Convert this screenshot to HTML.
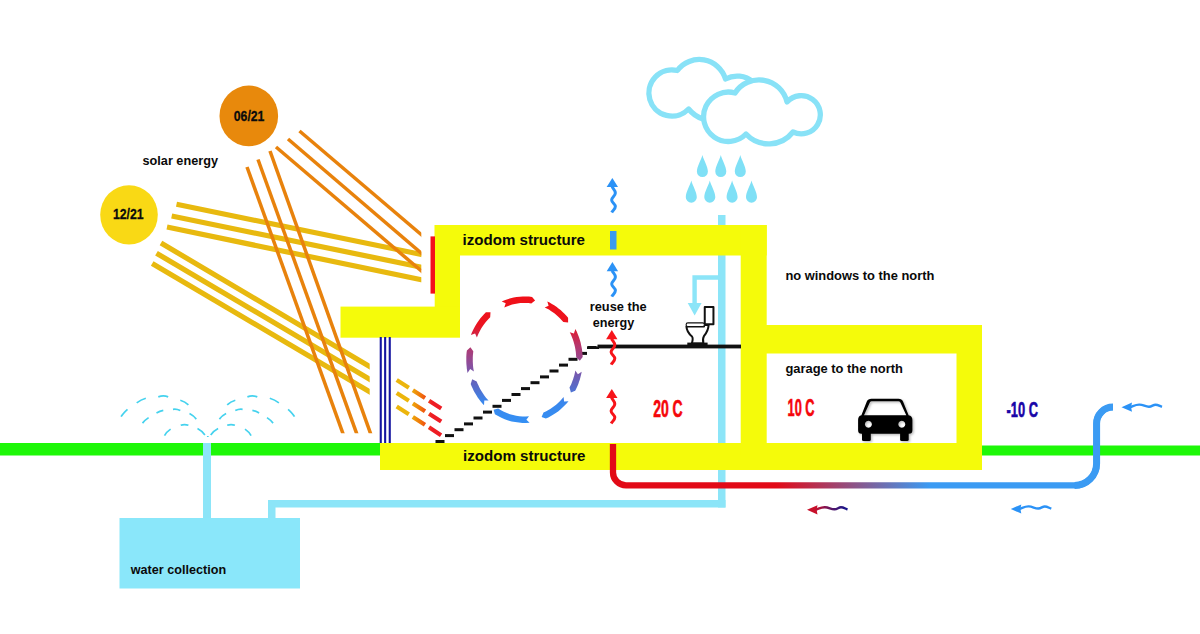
<!DOCTYPE html>
<html><head><meta charset="utf-8"><title>izodom energy diagram</title>
<style>
html,body{margin:0;padding:0;background:#fff}
svg{display:block}
text{font-family:"Liberation Sans",Arial,sans-serif;font-weight:bold;fill:#0a0a0a}
</style></head><body>
<svg width="1200" height="634" viewBox="0 0 1200 634">
<defs>
<linearGradient id="gc" gradientUnits="userSpaceOnUse" x1="0" y1="297" x2="0" y2="423">
<stop offset="0" stop-color="#f01018"/><stop offset="0.22" stop-color="#ec1420"/><stop offset="0.38" stop-color="#b8356a"/><stop offset="0.54" stop-color="#8a4f9e"/><stop offset="0.70" stop-color="#5c68c4"/><stop offset="0.83" stop-color="#3a86ec"/><stop offset="1" stop-color="#3490f4"/>
</linearGradient>
<linearGradient id="gp" gradientUnits="userSpaceOnUse" x1="776" y1="0" x2="930" y2="0">
<stop offset="0" stop-color="#e20a17"/><stop offset="1" stop-color="#3b9bf3"/>
</linearGradient>
<linearGradient id="gd" gradientUnits="userSpaceOnUse" x1="397" y1="0" x2="441" y2="0">
<stop offset="0" stop-color="#ecb50c"/><stop offset="0.3" stop-color="#ecb50c"/><stop offset="0.55" stop-color="#f0700a"/><stop offset="0.8" stop-color="#ee1c24"/><stop offset="1" stop-color="#ee1c24"/>
</linearGradient>
<linearGradient id="ga" gradientUnits="userSpaceOnUse" x1="0" y1="0" x2="40" y2="0">
<stop offset="0" stop-color="#c8102a"/><stop offset="0.300" stop-color="#b01038"/><stop offset="0.650" stop-color="#50186c"/><stop offset="1" stop-color="#14148c"/>
</linearGradient>
<clipPath id="cA"><rect x="0" y="0" width="600" height="433.300"/></clipPath><clipPath id="cC"><rect x="0" y="0" width="421.300" height="600"/></clipPath><clipPath id="cD"><rect x="0" y="0" width="369.700" height="600"/></clipPath>
<filter id="sh" x="-20%" y="-20%" width="150%" height="150%"><feDropShadow dx="1.300" dy="1.300" stdDeviation="0.900" flood-color="#000" flood-opacity="0.280"/></filter>
<g id="up"><path d="M0,0 L5.700,9.200 H-5.700Z" stroke="none"/><path d="M-0.300,8.800 C0.800,11 3,12.500 3,15 C3,18 -0.700,19.500 -0.700,22 C-0.700,24.500 3,26 3,28.500 C3,31 0.500,32.500 -0.600,34.600" fill="none" stroke-width="3"/></g>
<g id="lf"><path d="M0,0 L10.500,-4.600 L9.600,0 L10.500,4.600Z" stroke="none"/><path d="M8.500,0 C11.500,-0.800 14,-2.800 18,-2.600 C22,-2.400 24,-0.400 27.500,-0.500 C30.500,-0.600 31.500,-2.500 34,-2.500 C36.500,-2.500 38,-1.200 40.500,-0.300" fill="none" stroke-width="2.400"/></g>
</defs>
<rect width="1200" height="634" fill="#fff"/>

<!-- ground -->
<rect x="0" y="443" width="382" height="12.5" fill="#1ef708"/>
<rect x="980" y="445.5" width="220" height="10" fill="#1ef708"/>

<!-- sun rays -->
<g stroke="#e8b90f" stroke-width="5.2"><g clip-path="url(#cC)"><line x1="176.5" y1="204.3" x2="427.2" y2="255.6"/><line x1="171.7" y1="216" x2="427.2" y2="268.4"/><line x1="167" y1="227" x2="427.2" y2="281.0"/></g><g clip-path="url(#cD)"><line x1="161" y1="243" x2="374.9" y2="369.7"/><line x1="156.5" y1="253.2" x2="374.9" y2="382.3"/><line x1="152.2" y1="263.4" x2="374.9" y2="394.9"/></g></g><g stroke="#e8820c" stroke-width="3.5"><g clip-path="url(#cA)"><line x1="247" y1="167" x2="344.9" y2="438.9"/><line x1="258" y1="159.5" x2="358.6" y2="438.9"/><line x1="270" y1="151" x2="372.5" y2="439.0"/></g><g clip-path="url(#cC)"><line x1="276" y1="147" x2="425.9" y2="274.9"/><line x1="288" y1="139" x2="425.9" y2="257.1"/><line x1="299.5" y1="131" x2="425.9" y2="238.6"/></g></g>

<!-- suns -->
<ellipse cx="248.800" cy="115.900" rx="29.300" ry="30.300" fill="#e8890c"/>
<ellipse cx="129" cy="214.800" rx="28.800" ry="29.600" fill="#f9d915"/>
<text x="233.800" y="121.200" font-size="14.500" textLength="30.600" lengthAdjust="spacingAndGlyphs" stroke="#111" stroke-width="0.300">06/21</text>
<text x="113" y="219.400" font-size="14.500" textLength="30.600" lengthAdjust="spacingAndGlyphs" stroke="#111" stroke-width="0.300">12/21</text>
<text x="142.500" y="165" font-size="13.300" textLength="75.500" lengthAdjust="spacingAndGlyphs">solar energy</text>

<!-- water -->
<g fill="#8ce5f8">
<rect x="718" y="215" width="7.5" height="292.5"/>
<rect x="268" y="500" width="457.5" height="7.5"/>
<rect x="268" y="500" width="7.5" height="20"/>
<rect x="203" y="443" width="8" height="77"/>
<rect x="119.500" y="518" width="180.5" height="70.500" fill="#8ae7fa"/>
<path d="M718.200,275.300 H692.400 V303 H687.700 L694.650,315.400 L701.600,303 H696.800 V279.700 H718.200Z"/>
</g>

<!-- car -->
<g fill="#050505" filter="url(#sh)">
<path d="M871.500,398.700 H898.500 Q901.800,398.700 903,401.500 L908.600,415.200 Q912.400,416 912.400,420 V430.200 Q912.400,433.700 909,433.700 H861.500 Q858.100,433.700 858.100,430.200 V420 Q858.100,416 861.400,415.200 L866.800,401.500 Q868,398.700 871.500,398.700Z M871.800,401.200 Q870.400,401.200 869.800,402.500 L864,415.200 H906.300 L900.400,402.500 Q899.800,401.200 898.400,401.200Z M868.400,420.800 a3.500,3.500 0 1 0 0.010,0Z M901.800,420.800 a3.500,3.500 0 1 0 0.010,0Z" fill-rule="evenodd"/>
<rect x="862" y="430" width="8.800" height="11.100" rx="1.500"/><rect x="900.100" y="430" width="8.600" height="11.100" rx="1.500"/>
</g>

<!-- yellow structure -->
<g fill="#f5fb0a">
<rect x="434.700" y="225" width="332" height="30.500"/>
<rect x="434.700" y="225" width="25.300" height="112"/>
<rect x="340.500" y="306.600" width="119.500" height="31.100"/>
<rect x="380" y="443" width="602" height="27"/>
<rect x="740.700" y="225" width="26" height="230"/>
<rect x="741" y="325" width="241" height="28.500"/>
<rect x="956.500" y="325" width="25.500" height="145"/>
</g>

<!-- blue window lines -->
<g fill="#1414a0"><rect x="379.700" y="337" width="2.100" height="106"/><rect x="384.100" y="337" width="2.100" height="106"/><rect x="388.700" y="337" width="2.100" height="106"/></g>
<!-- red collector -->
<rect x="430.500" y="236.400" width="4.500" height="57.200" fill="#f4101c"/>
<!-- roof vent -->
<rect x="610" y="231" width="6.500" height="18.500" fill="#3b9bf0"/>

<!-- dashed rays inside -->
<g stroke="url(#gd)" stroke-width="4.200" stroke-dasharray="14.400 4.800" fill="none">
<path d="M396.700,380 L441.300,408.500"/><path d="M396.700,393.100 L441.300,421.600"/><path d="M396.700,406.500 L441.300,435.300"/>
</g>

<!-- stairs and floor -->
<g fill="#111"><rect x="435.5" y="440.0" width="9" height="3"/><rect x="445.0" y="434.1" width="9" height="3"/><rect x="454.5" y="428.2" width="9" height="3"/><rect x="464.0" y="422.4" width="9" height="3"/><rect x="473.5" y="416.5" width="9" height="3"/><rect x="483.0" y="410.6" width="9" height="3"/><rect x="492.5" y="404.8" width="9" height="3"/><rect x="502.0" y="398.9" width="9" height="3"/><rect x="511.5" y="393.0" width="9" height="3"/><rect x="521.0" y="387.1" width="9" height="3"/><rect x="530.5" y="381.2" width="9" height="3"/><rect x="540.0" y="375.4" width="9" height="3"/><rect x="549.5" y="369.5" width="9" height="3"/><rect x="559.0" y="363.6" width="9" height="3"/><rect x="568.5" y="357.8" width="9" height="3"/><rect x="578.0" y="351.9" width="9" height="3"/><rect x="587.5" y="346.0" width="9" height="3"/><rect x="587" y="346.500" width="12" height="2.500"/><rect x="597.500" y="344.600" width="143.500" height="3.800"/></g>

<!-- air circulation -->
<path d="M575.4,329.0 576.7,331.6 577.8,334.3 578.9,337.0 579.8,339.7 580.6,342.5 581.2,345.4 581.8,348.2 582.2,351.1 582.5,354.0 582.7,356.9 579.8,360.8 576.2,357.2 576.0,354.6 575.8,352.0 575.4,349.4 574.9,346.8 574.3,344.3 573.6,341.8 572.8,339.3 571.9,336.9 570.9,334.5 569.8,332.2 573.9,333.4Z M581.7,371.8 581.3,373.8 580.8,375.8 580.3,377.7 579.8,379.7 579.1,381.6 578.5,383.5 577.7,385.4 576.9,387.2 576.1,389.1 575.2,390.8 570.9,392.5 569.5,387.6 570.3,386.0 571.1,384.4 571.8,382.7 572.4,381.1 573.1,379.3 573.6,377.6 574.1,375.9 574.6,374.1 575.0,372.3 575.3,370.5 577.9,374.2Z M568.5,401.2 566.6,403.4 564.6,405.6 562.5,407.6 560.4,409.5 558.1,411.4 555.8,413.0 553.4,414.6 550.9,416.1 548.4,417.4 545.8,418.5 541.6,417.0 543.5,412.5 545.8,411.4 548.0,410.3 550.2,409.0 552.3,407.6 554.4,406.0 556.4,404.4 558.3,402.7 560.1,400.9 561.9,398.9 563.6,396.9 564.1,401.4Z M529.6,422.7 526.0,422.9 522.4,422.9 518.8,422.6 515.2,422.1 511.6,421.4 508.2,420.4 504.7,419.2 501.4,417.7 498.1,416.1 494.9,414.2 493.6,409.7 498.2,408.6 501.0,410.3 503.9,411.8 506.9,413.1 510.0,414.2 513.1,415.1 516.2,415.7 519.4,416.2 522.6,416.4 525.8,416.4 529.0,416.2 526.4,419.7Z M484.0,405.2 482.4,403.4 480.7,401.4 479.2,399.5 477.7,397.4 476.4,395.3 475.0,393.1 473.8,390.9 472.7,388.6 471.6,386.3 470.7,383.9 472.2,379.3 476.7,381.4 477.5,383.5 478.5,385.6 479.5,387.7 480.6,389.7 481.7,391.6 483.0,393.5 484.3,395.4 485.6,397.2 487.1,398.9 488.6,400.5 484.3,400.6Z M467.5,372.9 467.1,370.6 466.8,368.4 466.6,366.1 466.4,363.9 466.3,361.6 466.3,359.4 466.3,357.1 466.4,354.8 466.6,352.6 466.9,350.4 470.4,347.2 473.3,351.3 473.1,353.3 472.9,355.3 472.8,357.4 472.8,359.4 472.8,361.4 472.9,363.5 473.0,365.5 473.2,367.5 473.5,369.5 473.9,371.5 470.2,369.1Z M470.9,335.0 471.9,332.4 473.1,329.9 474.4,327.5 475.8,325.1 477.2,322.7 478.8,320.5 480.4,318.3 482.2,316.2 484.0,314.2 485.9,312.3 490.5,312.2 490.2,317.2 488.5,318.9 486.9,320.7 485.4,322.6 483.9,324.5 482.5,326.5 481.2,328.6 480.0,330.8 478.8,333.0 477.8,335.2 476.9,337.5 475.1,333.4Z M501.7,301.5 504.6,300.2 507.6,299.2 510.6,298.3 513.6,297.6 516.6,297.0 519.7,296.7 522.8,296.5 525.9,296.5 529.0,296.6 532.1,297.0 535.1,300.5 531.3,303.4 528.5,303.1 525.8,303.0 523.0,303.0 520.3,303.1 517.5,303.5 514.8,304.0 512.1,304.6 509.5,305.4 506.8,306.4 504.3,307.5 505.7,303.3Z M547.3,301.5 549.6,302.6 551.9,303.9 554.2,305.3 556.4,306.8 558.5,308.4 560.6,310.1 562.6,311.9 564.5,313.7 566.4,315.7 568.1,317.8 568.1,322.6 563.3,322.1 561.7,320.2 560.1,318.5 558.3,316.8 556.6,315.2 554.7,313.6 552.8,312.2 550.9,310.9 548.9,309.6 546.8,308.5 544.7,307.5 548.6,305.8Z" fill="url(#gc)"/>

<!-- pipes air -->
<path d="M613,444 V472.400 A13,13 0 0 0 626,485.400 H1074.600 A22,22 0 0 0 1096.600,463.400 V423.500 A16.400,16.400 0 0 1 1113,407.100" fill="none" stroke="url(#gp)" stroke-width="6.300"/>
<path d="M1074.600,485.400 A22,22 0 0 0 1096.600,463.400 V423.500 A16.400,16.400 0 0 1 1113,407.100" fill="none" stroke="#3b9bf3" stroke-width="7"/>

<!-- arrows -->
<g fill="#2b92f6" stroke="#2b92f6"><use href="#up" x="612.350" y="177.900"/><use href="#up" x="612.400" y="262"/>
<use href="#lf" x="1121.500" y="407.200"/><use href="#lf" x="1010.800" y="509"/></g>
<g fill="#f7141a" stroke="#f7141a"><use href="#up" x="611.800" y="330"/><use href="#up" x="611.800" y="388.900"/></g>
<g fill="#c8102a" stroke="url(#ga)"><use href="#lf" x="807" y="509.800"/></g>

<!-- clouds -->
<g fill="none" stroke="#88e2f7" stroke-width="5.300" stroke-linejoin="round" stroke-linecap="round">
<path d="M703,119 A30.700,30.700 0 0 1 688.600,109 A23.100,23.100 0 1 1 677.300,70.500 A27.400,27.400 0 0 1 725.500,79 A24.300,24.300 0 0 1 753,82"/>
<path d="M735,93 A28.650,28.650 0 0 1 787,102 A19.100,19.100 0 1 1 793,132 A31,31 0 0 1 746,134 A24.700,24.700 0 1 1 735,93Z" fill="#fff"/>
</g>
<!-- rain -->
<defs><path id="dr" d="M0,0 C1.200,5 5.500,11.500 5.500,16.600 A5.500,5.500 0 0 1 -5.500,16.600 C-5.500,11.500 -1.200,5 0,0Z"/></defs>
<g fill="#7fe0f6">
<use href="#dr" x="702.400" y="154.900"/><use href="#dr" x="720.800" y="154.900"/><use href="#dr" x="740.300" y="154.900"/>
<use href="#dr" x="691.300" y="180.600"/><use href="#dr" x="709.800" y="180.600"/><use href="#dr" x="732.100" y="180.600"/><use href="#dr" x="751.500" y="180.600"/>
</g>

<!-- fountain -->
<path d="M121.1,416.7Q122.6,413.7 127.5,409.3 M294.5,416.7Q293.0,413.7 288.1,409.3 M136.7,402.9Q140.9,399.7 145.8,398.3 M278.9,402.9Q274.7,399.7 269.8,398.3 M158.3,396.9Q163.3,395.0 168.2,396.9 M257.3,396.9Q252.4,395.0 247.4,396.9 M180.3,400.2Q185.1,401.5 188.4,404.8 M235.3,400.2Q230.5,401.5 227.2,404.8 M142.5,423.1Q145.0,420.0 148.6,417.6 M273.1,423.1Q270.6,420.0 267.0,417.6 M156.5,413.0Q159.7,411.1 163.3,410.3 M259.1,413.0Q255.9,411.1 252.4,410.3 M173.0,409.3Q176.6,408.7 180.3,410.6 M242.6,409.3Q239.0,408.7 235.3,410.6 M189.5,413.6Q193.4,415.6 196.3,419.1 M226.1,413.6Q222.2,415.6 219.4,419.1 M164.5,435.6Q166.6,431.8 170.6,429.1 M251.1,435.6Q249.0,431.8 245.0,429.1 M180.7,425.3Q184.5,423.8 188.4,425.3 M234.9,425.3Q231.1,423.8 227.2,425.3 M197.5,428.6Q201.9,430.9 204.9,435.0 M218.1,428.6Q213.7,430.9 210.7,435.0 M207.8,436.1v1" fill="none" stroke="#45d2ee" stroke-width="1.700"/>

<!-- toilet -->
<g fill="#fff" stroke="#111" stroke-width="2" stroke-linejoin="round">
<path d="M686.400,326.400 C686.700,331 689,334 692,336.500 C693.200,338 692.600,341 691.800,343.500 H703.400 C702.800,341 702.800,338 704,336 C706.500,333 708.300,330 708.600,325.100 L704,325 V326.400Z"/>
<rect x="704.750" y="307.050" width="8.700" height="17.200"/>
<rect x="686.100" y="322.900" width="18.300" height="3.600" rx="1.800" stroke-width="1.100"/>
<rect x="687.300" y="342.600" width="20.300" height="2.500" fill="#111" stroke="none"/>
</g>

<!-- labels -->
<text x="462.500" y="244.800" font-size="15.100" textLength="122.500" lengthAdjust="spacingAndGlyphs">izodom structure</text>
<text x="463" y="461" font-size="15.100" textLength="122.500" lengthAdjust="spacingAndGlyphs">izodom structure</text>
<text x="589.700" y="310.500" font-size="13.300" textLength="57" lengthAdjust="spacingAndGlyphs">reuse the</text>
<text x="592.800" y="326.700" font-size="13.300" textLength="41.400" lengthAdjust="spacingAndGlyphs">energy</text>
<text x="785.400" y="280.300" font-size="13.400" textLength="149" lengthAdjust="spacingAndGlyphs">no windows to the north</text>
<text x="785.400" y="373.400" font-size="13.400" textLength="117.500" lengthAdjust="spacingAndGlyphs">garage to the north</text>
<text x="130.800" y="574" font-size="13.400" textLength="95.300" lengthAdjust="spacingAndGlyphs">water collection</text>
<text x="653.200" y="416.600" font-size="23.300" textLength="29.500" lengthAdjust="spacingAndGlyphs" style="fill:#f5060a;stroke:#f5060a;stroke-width:0.6">20 C</text>
<text x="787.600" y="416.300" font-size="23.300" textLength="27" lengthAdjust="spacingAndGlyphs" style="fill:#f5060a;stroke:#f5060a;stroke-width:0.6">10 C</text>
<text x="1006.600" y="417.400" font-size="21.600" textLength="31.400" lengthAdjust="spacingAndGlyphs" style="fill:#1805a8;stroke:#1805a8;stroke-width:0.6">-10 C</text>
</svg>
</body></html>
